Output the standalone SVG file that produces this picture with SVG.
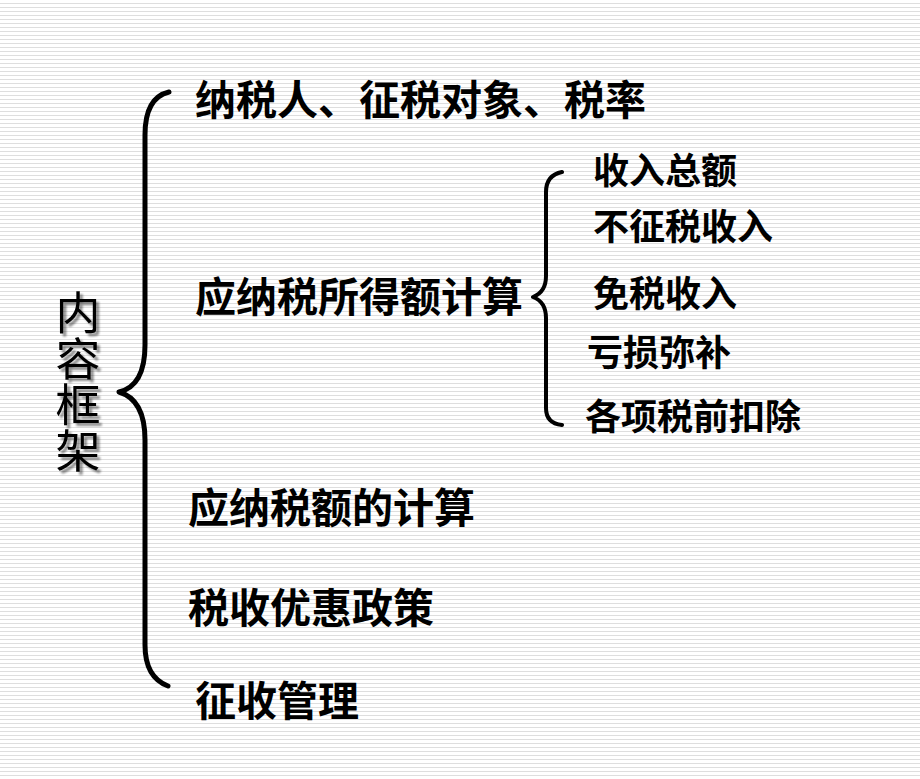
<svg xmlns="http://www.w3.org/2000/svg" width="920" height="779" viewBox="0 0 920 779">
  <defs>
    <pattern id="stripes" x="0" y="0" width="8" height="4" patternUnits="userSpaceOnUse">
      <rect x="0" y="0" width="8" height="4" fill="#ffffff"/>
      <rect x="0" y="3" width="8" height="1" fill="#dedede"/>
    </pattern>
    <filter id="shadow" x="-20%" y="-20%" width="140%" height="140%">
      <feGaussianBlur in="SourceAlpha" stdDeviation="1"/>
      <feOffset dx="3" dy="3" result="b"/>
      <feComponentTransfer><feFuncA type="linear" slope="0.45"/></feComponentTransfer>
      <feMerge><feMergeNode/><feMergeNode in="SourceGraphic"/></feMerge>
    </filter>
  </defs>
  <style>
    .t { font-family: "Noto Sans CJK SC", "Noto Sans", sans-serif; font-weight: bold; fill: #000; }
    .big { font-size: 41px; }
    .sm { font-size: 36px; }
    .title { font-family: "Noto Sans CJK SC", "Noto Sans", sans-serif; font-size: 45px; fill: #000; writing-mode: vertical-rl; letter-spacing: 1px; }
    .brace { fill: none; stroke: #000; stroke-linecap: round; stroke-linejoin: round; }
  </style>
  <rect x="0" y="0" width="920" height="779" fill="url(#stripes)"/>

  <g id="title" filter="url(#shadow)">
    <text class="title" x="78" y="290">内容框架</text>
  </g>

  <g id="connectors">
    <path class="brace" stroke-width="5" d="M169,92 C152,96 145,112 145,135 L145,345 C145,372 136,388 119,392 C136,397 145,412 145,440 L145,645 C145,665 152,680 168,686"/>
    <path class="brace" stroke-width="4" d="M562,172 C552,174 546,180 546,192 L546,276 C546,288 541,294 533,297 C541,300 546,306 546,318 L546,408 C546,419 552,424 562,425"/>
  </g>

  <g id="n1"><text class="t big" x="195" y="115">纳税人、征税对象、税率</text></g>
  <g id="n2"><text class="t big" x="195" y="312">应纳税所得额计算</text></g>
  <g id="n2a"><text class="t sm" x="593" y="184">收入总额</text></g>
  <g id="n2b"><text class="t sm" x="593" y="240">不征税收入</text></g>
  <g id="n2c"><text class="t sm" x="593" y="307">免税收入</text></g>
  <g id="n2d"><text class="t sm" x="587" y="366">亏损弥补</text></g>
  <g id="n2e"><text class="t sm" x="585" y="430">各项税前扣除</text></g>
  <g id="n3"><text class="t big" x="188" y="523">应纳税额的计算</text></g>
  <g id="n4"><text class="t big" x="188" y="623">税收优惠政策</text></g>
  <g id="n5"><text class="t big" x="195" y="716">征收管理</text></g>
</svg>
